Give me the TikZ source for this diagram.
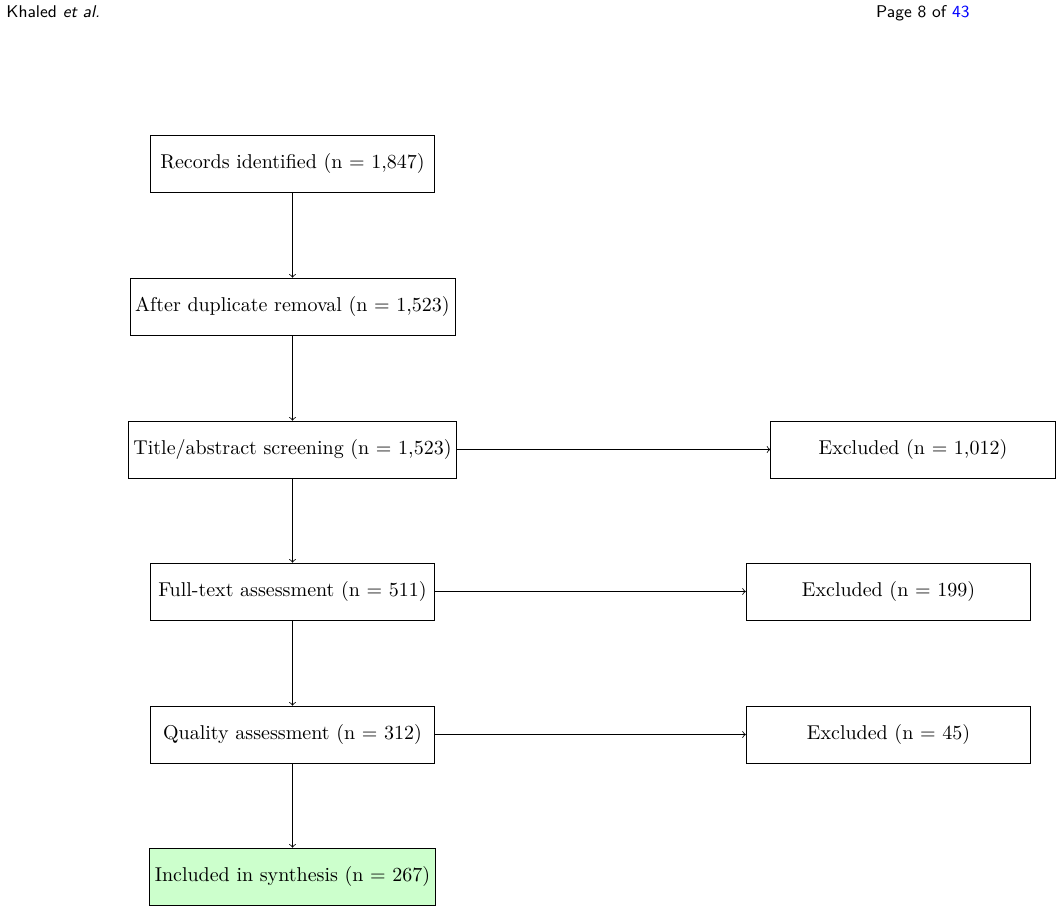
\documentclass[tikz,border=0pt]{standalone}
\usetikzlibrary{positioning}
\begin{document}
\begin{tikzpicture}[x=0.5pt,y=-0.5pt,
  stagebox/.style={draw, minimum width=5cm, minimum height=1cm, align=center, inner sep=2.6pt},
  finalbox/.style={stagebox, fill=green!20},
  flow/.style={->},
  hdr/.style={font=\sffamily\fontsize{8.5}{10}\selectfont, inner sep=0pt}]
\useasboundingbox (0,0) rectangle (1061,912);
\node[hdr, anchor=base west] (author) at (6,17.5) {Khaled \textit{et al.}};
\node[hdr, anchor=base east] (page) at (970,17.5) {Page 8 of \textcolor{blue}{43}};
\node[stagebox] (rec) at (292.5,163.5) {Records identified (n = 1,847)};
\node[stagebox] (dup) at (292.5,306.5) {After duplicate removal (n = 1,523)};
\node[stagebox] (scr) at (292.5,449.5) {Title/abstract screening (n = 1,523)};
\node[stagebox] (ex1) at (913,449.5) {Excluded (n = 1,012)};
\node[stagebox] (ft) at (292.5,591.5) {Full-text assessment (n = 511)};
\node[stagebox] (ex2) at (888.5,591.5) {Excluded (n = 199)};
\node[stagebox] (qa) at (292.5,734.5) {Quality assessment (n = 312)};
\node[stagebox] (ex3) at (888.5,734.5) {Excluded (n = 45)};
\node[finalbox] (inc) at (292.5,876.5) {Included in synthesis (n = 267)};
\draw[flow] (rec) -- (dup);
\draw[flow] (dup) -- (scr);
\draw[flow] (scr) -- (ft);
\draw[flow] (ft) -- (qa);
\draw[flow] (qa) -- (inc);
\draw[flow] (scr) -- (ex1);
\draw[flow] (ft) -- (ex2);
\draw[flow] (qa) -- (ex3);
\end{tikzpicture}
\end{document}
